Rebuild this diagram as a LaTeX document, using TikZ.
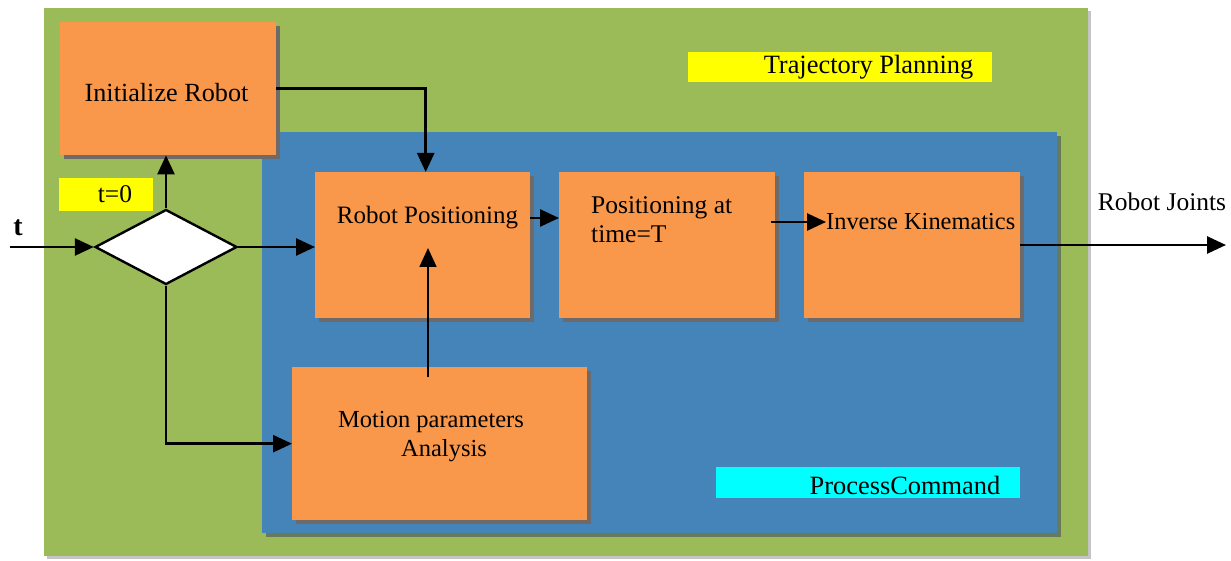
\documentclass[tikz,border=0pt]{standalone}
\usepackage{fontspec}
\setmainfont{Liberation Serif}
\usetikzlibrary{arrows.meta,shapes.geometric,shadows,calc}
\definecolor{bggreen}{HTML}{9BBB59}
\definecolor{pblue}{HTML}{4584B8}
\definecolor{porange}{HTML}{F9974A}
\definecolor{shgray}{HTML}{6E6A6A}
\definecolor{shgreen}{HTML}{667A5C}
\definecolor{shlight}{HTML}{C4C4C4}
\definecolor{tagyellow}{HTML}{FFFF00}
\definecolor{tagcyan}{HTML}{00FFFF}
\begin{document}
\begin{tikzpicture}[x=1pt,y=-1pt,
  panel/.style={rectangle,draw=none,inner sep=0pt,anchor=north west},
  obox/.style={panel,fill=porange,drop shadow={shadow xshift=4pt,shadow yshift=-4pt,fill=shgray,opacity=1}},
  txt/.style={inner sep=0pt,font=\fontsize{25.5}{29}\selectfont,text=black},
  tag/.style={panel,minimum height=30pt},
  arr/.style={-{Triangle[length=19pt,width=17pt]},line width=2.6pt,black},
  thinarr/.style={-{Triangle[length=19pt,width=17pt]},line width=1.8pt,black}
]
\useasboundingbox (0,0) rectangle (1231,561);
% panels
\node[panel,fill=bggreen,minimum width=1044pt,minimum height=548pt,
  drop shadow={shadow xshift=3pt,shadow yshift=-3pt,fill=shlight,opacity=1}] (traj) at (44,8) {};
\node[panel,fill=pblue,minimum width=795pt,minimum height=401pt,
  drop shadow={shadow xshift=4pt,shadow yshift=-4pt,fill=shgreen,opacity=1}] (proc) at (262,132) {};
% labels of panels
\node[tag,fill=tagyellow,minimum width=304pt] (trajtag) at (688,52) {};
\node[txt,font=\fontsize{26.4}{29}\selectfont] (trajtxt) at (868.5,67) {Trajectory Planning};
\node[tag,fill=tagcyan,minimum width=304pt,minimum height=31pt] (proctag) at (716,467) {};
\node[txt,font=\fontsize{26.4}{29}\selectfont] (proctxt) at (905,485) {ProcessCommand};
\node[tag,fill=tagyellow,minimum width=94pt,minimum height=33pt] (t0tag) at (59,178) {};
\node[txt] (t0txt) at (115,194) {t=0};
% boxes
\node[obox,minimum width=216pt,minimum height=133pt] (init) at (60,22) {};
\node[txt,font=\fontsize{26.2}{29}\selectfont] (inittxt) at (166.5,93) {Initialize Robot};
\node[obox,minimum width=215pt,minimum height=146pt] (rp) at (315,172) {};
\node[txt,font=\fontsize{25}{29}\selectfont] (rptxt) at (427.5,218) {Robot Positioning};
\node[obox,minimum width=216pt,minimum height=146pt] (pt) at (559,172) {};
\node[txt,anchor=west,align=left] (pttxt) at (591,220) {Positioning at\\time=T};
\node[obox,minimum width=216pt,minimum height=146pt] (ik) at (804,172) {};
\node[txt,anchor=west,font=\fontsize{24.4}{29}\selectfont] (iktxt) at (826,222) {Inverse Kinematics};
\node[obox,minimum width=295pt,minimum height=153pt] (mp) at (292,367) {};
\node[txt,align=center,font=\fontsize{24.5}{29}\selectfont] (mptxt) at (431,437) {Motion parameters\\\hspace*{26pt}Analysis};
% decision
\node[diamond,draw=black,line width=2.4pt,fill=white,inner sep=0pt,
  minimum width=142pt,minimum height=75pt] (dec) at (166,247) {};
% outer texts
\node[txt,font=\fontsize{28}{30}\selectfont\bfseries] (tin) at (18,228) {t};
\node[txt] (joints) at (1162,202) {Robot Joints};
\coordinate (tstart) at (10,247);
\coordinate (tout) at (1226,245);
\coordinate (mpup) at (428,377);
\coordinate (rpin) at (428,248);
% connectors
\draw[arr] (tstart) -- (dec.west);
\draw[arr] (dec.east) -- (dec.east -| rp.west);
\draw[arr] (dec.north) -- (dec.north |- init.south);
\draw[arr] (dec.south) |- (mp.west);
\draw[arr] (init.east) -| ($(rp.north)+(3,0)$);
\draw[thinarr] (mpup) -- (rpin);
\draw[arr] (rptxt.east -| rp.east) -- (rptxt.east -| pt.west);
\draw[arr] ($(iktxt.west -| pt.east)+(-4,0)$) -- (iktxt.west);
\draw[arr] (ik.east |- tout) -- (tout);
\end{tikzpicture}
\end{document}
